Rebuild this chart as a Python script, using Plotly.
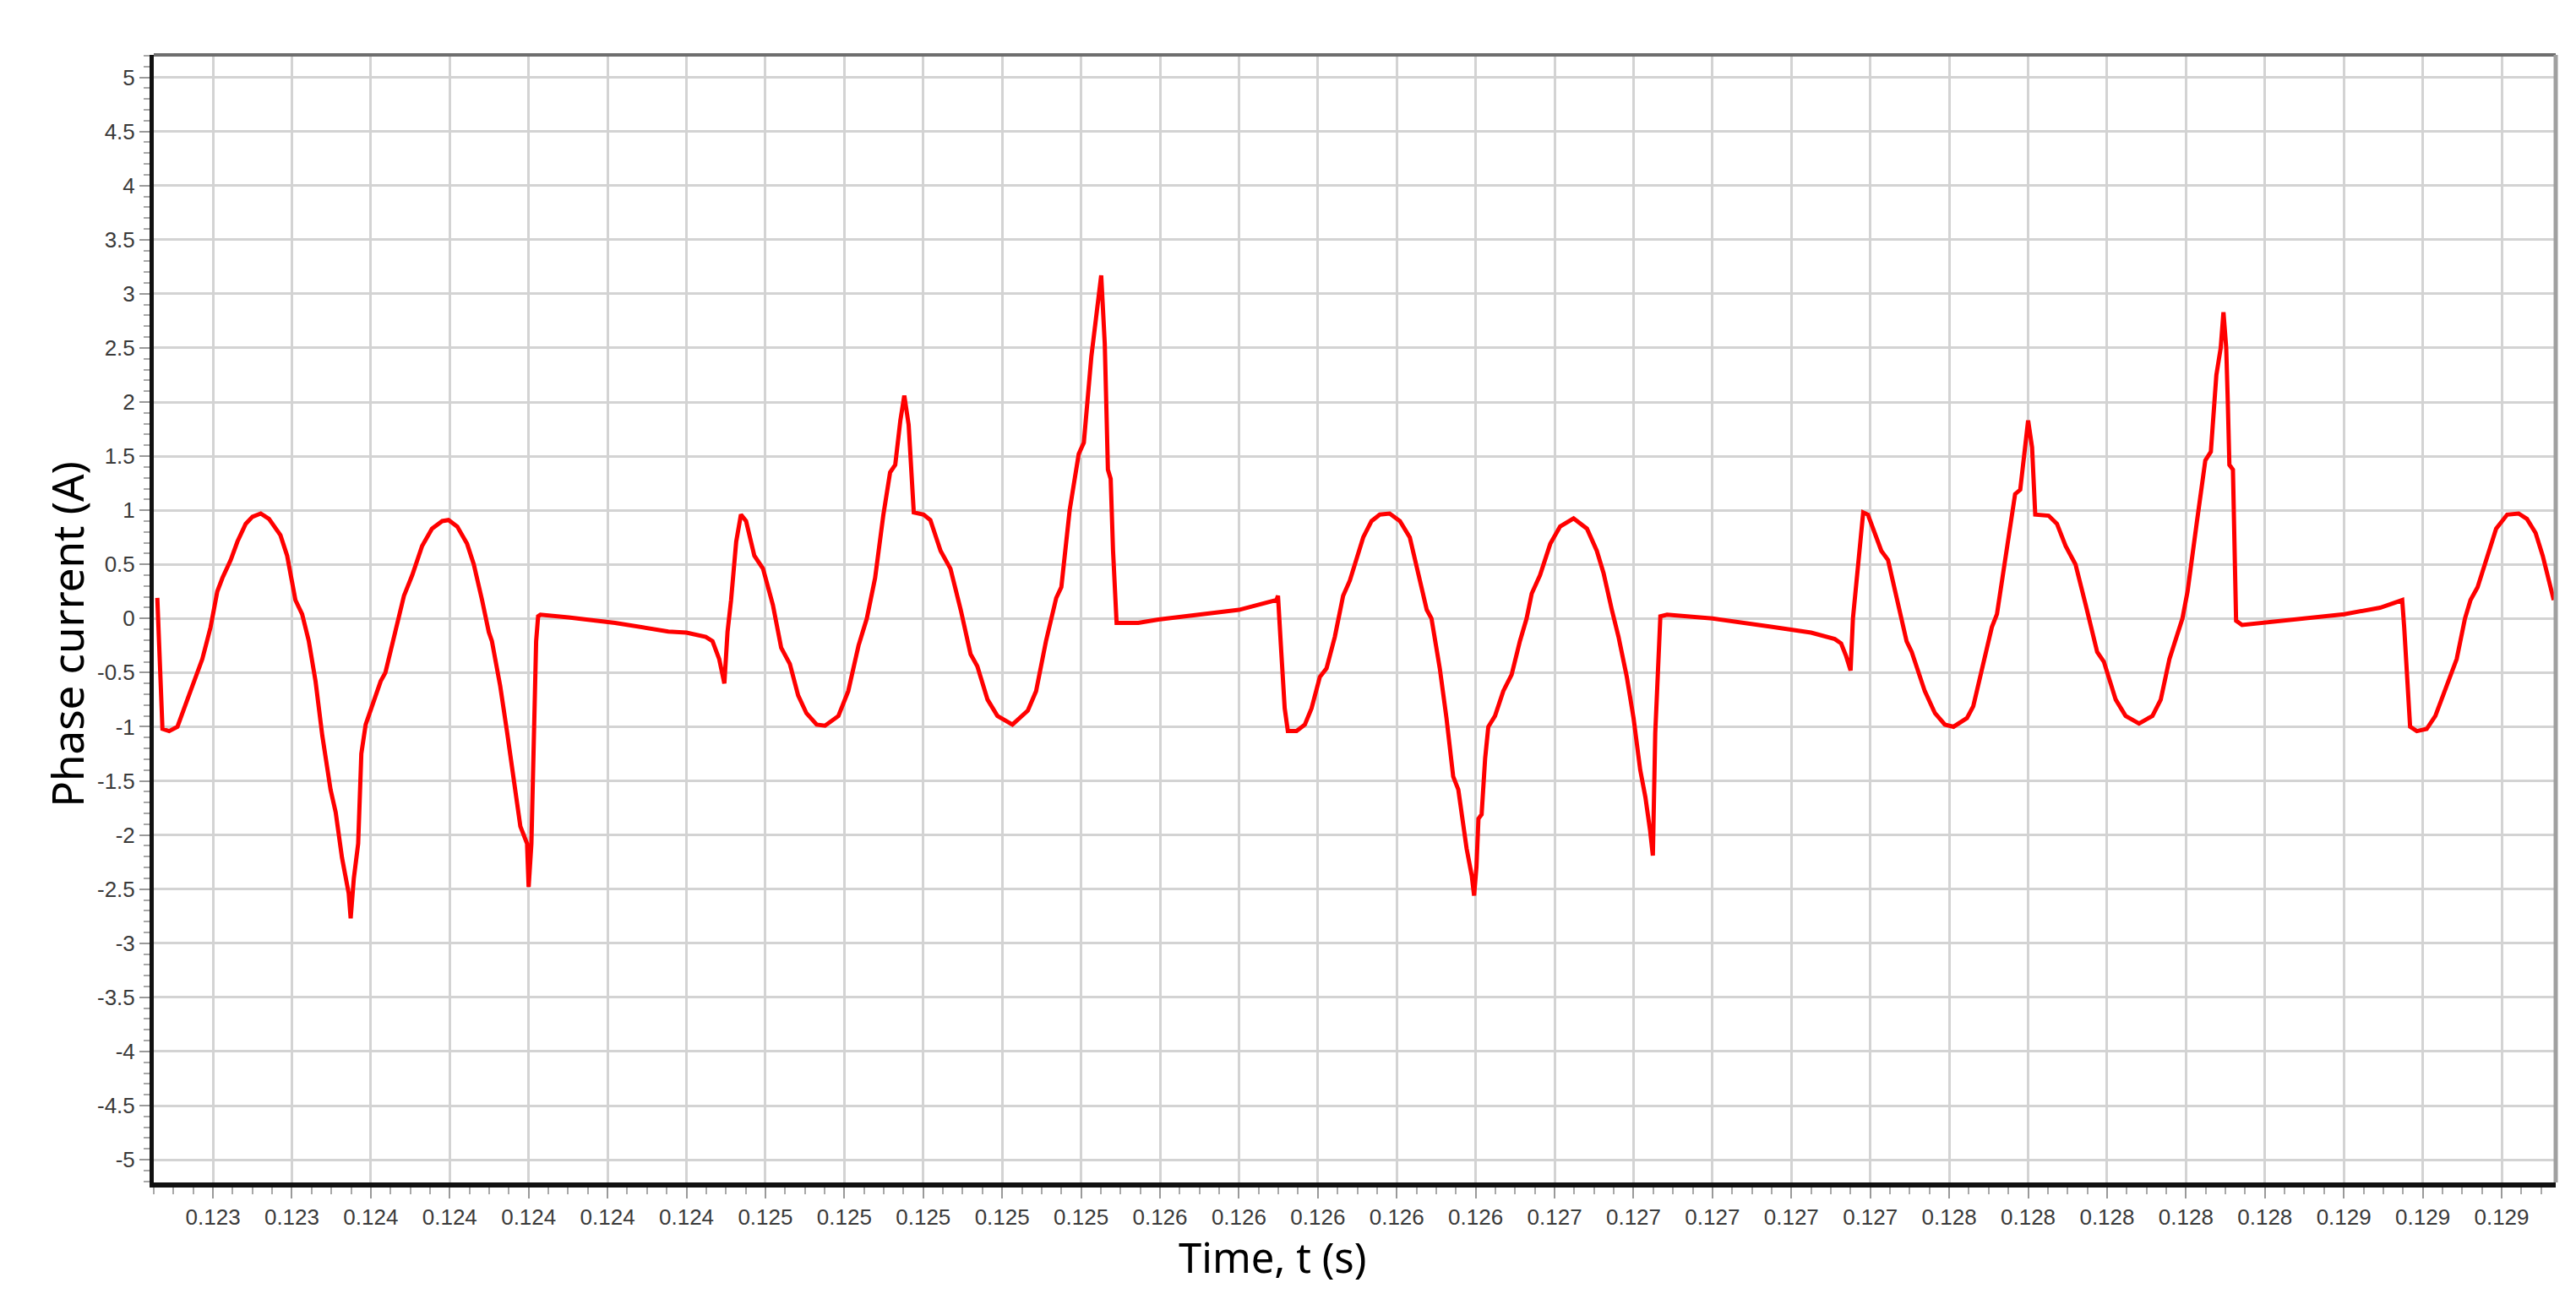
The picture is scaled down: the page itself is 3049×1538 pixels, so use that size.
import plotly.graph_objects as go

# ---------------- data ----------------
time_s = [
    0.123059, 0.123072, 0.123089, 0.123110, 0.123131, 0.123156, 0.123173, 0.123194,
    0.123211, 0.123224, 0.123245, 0.123262, 0.123283, 0.123300, 0.123321, 0.123342,
    0.123371, 0.123388, 0.123409, 0.123426, 0.123443, 0.123460, 0.123477, 0.123498,
    0.123511, 0.123527, 0.123544, 0.123549, 0.123557, 0.123568, 0.123576, 0.123587,
    0.123599, 0.123625, 0.123637, 0.123662, 0.123684, 0.123705, 0.123730, 0.123755,
    0.123781, 0.123797, 0.123819, 0.123844, 0.123861, 0.123882, 0.123899, 0.123907,
    0.123928, 0.123945, 0.123966, 0.123979, 0.123996, 0.124000, 0.124007, 0.124010,
    0.124015, 0.124019, 0.124024, 0.124030, 0.124101, 0.124219, 0.124354,
    0.124400, 0.124449, 0.124466, 0.124483, 0.124496, 0.124504, 0.124513, 0.124526,
    0.124538, 0.124551, 0.124572, 0.124594, 0.124619, 0.124640, 0.124662, 0.124683,
    0.124704, 0.124730, 0.124751, 0.124785, 0.124810, 0.124836, 0.124857, 0.124878,
    0.124899, 0.124916, 0.124929, 0.124942, 0.124952, 0.124963, 0.124976, 0.125001,
    0.125018, 0.125044, 0.125069, 0.125095, 0.125120, 0.125137, 0.125163, 0.125188,
    0.125226, 0.125265, 0.125286, 0.125311, 0.125337, 0.125350, 0.125371, 0.125394,
    0.125407, 0.125426, 0.125441, 0.125451, 0.125460, 0.125468, 0.125475, 0.125481,
    0.125490, 0.125545, 0.125596,
    0.125800, 0.125895, 0.125899, 0.125907, 0.125916, 0.125924, 0.125946, 0.125967,
    0.125984, 0.126005, 0.126022, 0.126043, 0.126064, 0.126081, 0.126098, 0.126115,
    0.126136, 0.126157, 0.126182, 0.126208, 0.126233, 0.126250, 0.126276, 0.126288,
    0.126309, 0.126326, 0.126343, 0.126356, 0.126377, 0.126390, 0.126396, 0.126402,
    0.126407, 0.126415, 0.126424, 0.126432, 0.126449, 0.126470, 0.126491, 0.126512,
    0.126529, 0.126542, 0.126563, 0.126589, 0.126614, 0.126648, 0.126682, 0.126707,
    0.126724, 0.126745, 0.126762, 0.126783, 0.126800, 0.126817, 0.126830, 0.126842,
    0.126849, 0.126855, 0.126861, 0.126868, 0.126885,
    0.127000, 0.127148, 0.127250, 0.127310, 0.127326, 0.127339, 0.127350, 0.127356,
    0.127365, 0.127382, 0.127394, 0.127411, 0.127428, 0.127445, 0.127471, 0.127492,
    0.127505, 0.127538, 0.127564, 0.127589, 0.127611, 0.127645, 0.127661, 0.127687,
    0.127708, 0.127721, 0.127742, 0.127759, 0.127767, 0.127780, 0.127793, 0.127800,
    0.127810, 0.127818, 0.127852, 0.127873, 0.127895, 0.127920, 0.127946, 0.127975,
    0.127992, 0.128022, 0.128047, 0.128081, 0.128115, 0.128136, 0.128158, 0.128175,
    0.128191, 0.128204, 0.128217,
    0.128227, 0.128249, 0.128263, 0.128277, 0.128288, 0.128295, 0.128302, 0.128306,
    0.128310, 0.128319, 0.128324, 0.128327, 0.128342, 0.128395, 0.128513, 0.128601,
    0.128692, 0.128748, 0.128753, 0.128760, 0.128768, 0.128785, 0.128810, 0.128832,
    0.128850, 0.128871, 0.128886, 0.128907, 0.128921, 0.128939, 0.128961, 0.128986,
    0.129014, 0.129043, 0.129064, 0.129086, 0.129104, 0.129132,
]

current_a = [
    0.19, -1.02, -1.04, -1.00, -0.79, -0.54, -0.375, -0.08,
    0.25, 0.375, 0.54, 0.71, 0.875, 0.94, 0.97, 0.92,
    0.77, 0.58, 0.17, 0.04, -0.21, -0.58, -1.08, -1.58,
    -1.79, -2.21, -2.54, -2.77, -2.40, -2.08, -1.25, -0.98,
    -0.85, -0.58, -0.50, -0.125, 0.21, 0.40, 0.67, 0.83,
    0.90, 0.91, 0.85, 0.69, 0.50, 0.17, -0.125, -0.21,
    -0.625, -1.04, -1.58, -1.92, -2.08, -2.48, -2.08, -1.50,
    -0.90, -0.21, 0.02, 0.035, 0.01, -0.04, -0.12,
    -0.13, -0.17, -0.21, -0.375, -0.60, -0.125, 0.17, 0.71,
    0.96, 0.90, 0.58, 0.46, 0.125, -0.27, -0.42, -0.71,
    -0.875, -0.98, -0.99, -0.90, -0.67, -0.25, 0.0, 0.375,
    0.96, 1.35, 1.42, 1.83, 2.06, 1.79, 0.98, 0.96,
    0.91, 0.625, 0.46, 0.08, -0.33, -0.44, -0.75, -0.90,
    -0.98, -0.85, -0.67, -0.21, 0.19, 0.29, 1.00, 1.52,
    1.625, 2.42, 2.83, 3.17, 2.54, 1.375, 1.29, 0.625,
    -0.04, -0.04, -0.01,
    0.08, 0.17, 0.21, -0.29, -0.83, -1.04, -1.04, -0.98,
    -0.83, -0.54, -0.46, -0.17, 0.21, 0.35, 0.54, 0.75,
    0.90, 0.96, 0.97, 0.90, 0.75, 0.50, 0.08, 0.0,
    -0.46, -0.92, -1.46, -1.58, -2.125, -2.375, -2.56, -2.29,
    -1.85, -1.81, -1.29, -1.00, -0.90, -0.67, -0.52, -0.21,
    0.0, 0.23, 0.40, 0.69, 0.85, 0.925, 0.83, 0.625,
    0.42, 0.08, -0.17, -0.54, -0.92, -1.40, -1.65, -1.96,
    -2.19, -1.06, -0.44, 0.02, 0.035,
    0.0, -0.075, -0.13, -0.19, -0.23, -0.35, -0.48, 0.0,
    0.375, 0.98, 0.96, 0.79, 0.625, 0.54, 0.125, -0.21,
    -0.31, -0.67, -0.875, -0.98, -1.00, -0.92, -0.81, -0.42,
    -0.08, 0.04, 0.54, 1.00, 1.15, 1.19, 1.625, 1.83,
    1.58, 0.96, 0.95, 0.875, 0.67, 0.50, 0.125, -0.31,
    -0.40, -0.75, -0.90, -0.97, -0.90, -0.75, -0.375, -0.17,
    0.0, 0.25, 0.625,
    0.875, 1.46, 1.54, 2.25, 2.50, 2.83, 2.50, 2.00,
    1.42, 1.375, 0.54, -0.02, -0.06, -0.04, 0.01, 0.04,
    0.10, 0.17, -0.08, -0.54, -1.00, -1.04, -1.02, -0.90,
    -0.73, -0.54, -0.375, 0.0, 0.17, 0.29, 0.54, 0.83,
    0.96, 0.97, 0.92, 0.79, 0.58, 0.17,
]

x_tick_values = [
    0.1232, 0.1234, 0.1236, 0.1238, 0.1240, 0.1242, 0.1244, 0.1246, 0.1248, 0.1250,
    0.1252, 0.1254, 0.1256, 0.1258, 0.1260, 0.1262, 0.1264, 0.1266, 0.1268, 0.1270,
    0.1272, 0.1274, 0.1276, 0.1278, 0.1280, 0.1282, 0.1284, 0.1286, 0.1288, 0.1290,
]
x_tick_labels = [
    "0.123", "0.123", "0.124", "0.124", "0.124", "0.124", "0.124", "0.125", "0.125", "0.125",
    "0.125", "0.125", "0.126", "0.126", "0.126", "0.126", "0.126", "0.127", "0.127", "0.127",
    "0.127", "0.127", "0.128", "0.128", "0.128", "0.128", "0.128", "0.129", "0.129", "0.129",
]
y_tick_values = [5, 4.5, 4, 3.5, 3, 2.5, 2, 1.5, 1, 0.5, 0, -0.5, -1, -1.5, -2, -2.5,
                 -3, -3.5, -4, -4.5, -5]
y_tick_labels = ["5", "4.5", "4", "3.5", "3", "2.5", "2", "1.5", "1", "0.5", "0", "-0.5",
                 "-1", "-1.5", "-2", "-2.5", "-3", "-3.5", "-4", "-4.5", "-5"]

x_title = "Time, t (s)"
y_title = "Phase current (A)"

# ---------------- figure ----------------
W, H = 3049, 1538
M_L, M_R, M_T, M_B = 174, 32, 57, 146

tick_font = dict(family="Liberation Sans Narrow, Arial Narrow, Liberation Sans, sans-serif",
                 size=26, color="#3a3a3a")
x_title_font = dict(family="Noto Sans, Open Sans, sans-serif", size=49, color="#000000")
y_title_font = dict(family="Noto Sans, Open Sans, sans-serif", size=51, color="#000000")

fig = go.Figure()
fig.add_trace(go.Scatter(
    x=time_s, y=current_a, mode="lines",
    line=dict(color="#ff0000", width=5),
    showlegend=False, hoverinfo="skip",
))

grid_color = "#d3d3d3"
fig.update_layout(
    width=W, height=H,
    margin=dict(l=M_L, r=M_R, t=M_T, b=M_B, pad=0),
    paper_bgcolor="#ffffff", plot_bgcolor="#ffffff",
    xaxis=dict(
        range=[0.12305, 0.129137],
        tickmode="array", tickvals=x_tick_values, ticktext=x_tick_labels,
        tickfont=tick_font,
        showgrid=True, gridcolor=grid_color, gridwidth=3,
        zeroline=False,
        showline=True, linecolor="#111111", linewidth=6,
        ticks="outside", ticklen=13, tickwidth=2, tickcolor="#9a9a9a",
        minor=dict(tickmode="linear", tick0=0.1232, dtick=0.00005,
                   ticks="outside", ticklen=8, tickwidth=2, tickcolor="#a8a8a8",
                   showgrid=False),
    ),
    yaxis=dict(
        range=[-5.21, 5.207],
        tickmode="array", tickvals=y_tick_values, ticktext=y_tick_labels,
        tickfont=tick_font,
        showgrid=True, gridcolor=grid_color, gridwidth=3,
        zeroline=False,
        showline=True, linecolor="#111111", linewidth=5,
        ticks="outside", ticklen=12, tickwidth=2, tickcolor="#9a9a9a",
        minor=dict(tickmode="linear", tick0=0, dtick=0.1,
                   ticks="outside", ticklen=7, tickwidth=2, tickcolor="#a8a8a8",
                   showgrid=False),
    ),
    shapes=[
        dict(type="line", xref="paper", yref="paper", x0=0, x1=1, y0=1, y1=1,
             line=dict(color="#6e6e6e", width=4)),
        dict(type="line", xref="paper", yref="paper", x0=1, x1=1, y0=0, y1=1,
             line=dict(color="#a0a0a0", width=5)),
    ],
    annotations=[
        dict(text=x_title, xref="paper", yref="paper", x=0.466, y=-0.066,
             xanchor="center", yanchor="middle", showarrow=False, font=x_title_font),
        dict(text=y_title, xref="paper", yref="paper", x=-0.036, y=0.486,
             xanchor="center", yanchor="middle", textangle=-90, showarrow=False,
             font=y_title_font),
    ],
)

fig.write_html("out.html")
